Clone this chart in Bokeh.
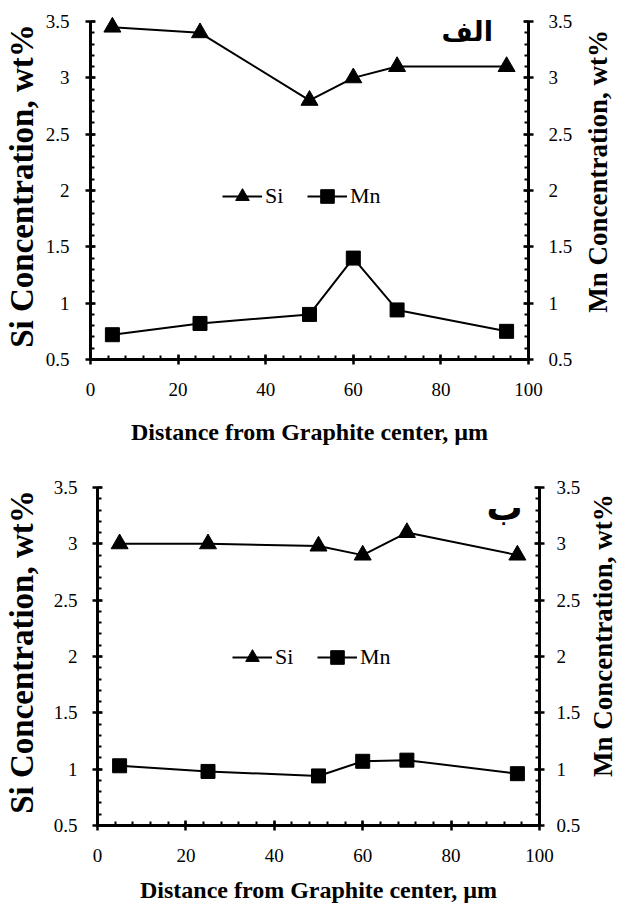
from bokeh.plotting import figure
from bokeh.models import (Range1d, LinearAxis, FixedTicker, Legend, LegendItem,
                          Label, CustomJSTickFormatter)
from bokeh.layouts import row
from bokeh.embed import file_html
from bokeh.resources import INLINE

# ---------------- data ----------------
distance_um = [5, 25, 50, 60, 70, 95]

si_a = [3.45, 3.40, 2.80, 3.00, 3.10, 3.10]
mn_a = [0.72, 0.82, 0.90, 1.40, 0.94, 0.75]

si_b = [3.00, 3.00, 2.98, 2.90, 3.10, 2.90]
mn_b = [1.03, 0.98, 0.94, 1.07, 1.08, 0.96]

x_tick_values = [0, 20, 40, 60, 80, 100]
x_minor_values = [v for v in range(0, 101, 4)]
y_tick_values = [0.5, 1, 1.5, 2, 2.5, 3, 3.5]
y_minor_values = [round(0.5 + 0.1 * i, 2) for i in range(31)]

x_title = "Distance from Graphite center, µm"
si_title = "Si Concentration, wt%"
mn_title = "Mn Concentration, wt%"
series_names = ["Si", "Mn"]
panel_tags = ["الف", "ب"]

SERIF = "'Times New Roman', 'Liberation Serif', serif"
FMT = "return tick.toString();"
MAIN_W = 583
SIDE_W = 36


def style_axis(ax, s1, s2):
    ax.axis_line_width = 3
    ax.axis_line_color = "black"
    ax.major_tick_line_width = 2.5
    ax.minor_tick_line_width = 2
    ax.major_tick_line_color = "black"
    ax.minor_tick_line_color = "black"
    ax.major_tick_in = 5
    ax.major_tick_out = 5
    ax.minor_tick_in = 4
    ax.minor_tick_out = 0
    ax.major_label_text_font = SERIF
    ax.major_label_text_font_size = "19px"
    ax.major_label_text_color = "black"
    ax.major_label_standoff = s1
    ax.axis_label_standoff = s2
    ax.axis_label_text_font = SERIF
    ax.axis_label_text_font_style = "bold"
    ax.axis_label_text_color = "black"


def make_panel(si, mn, tag, height, borders, legend_pos, tag_pos, tag_size,
               x_stand, y_stand, r_stand, side_pos):
    bl, br, bt, bb = borders
    p = figure(width=MAIN_W, height=height,
               x_range=Range1d(0, 100), y_range=Range1d(0.5, 3.58),
               output_backend="svg", toolbar_location=None,
               min_border_left=bl, min_border_right=br,
               min_border_top=bt, min_border_bottom=bb)
    p.extra_y_ranges = {"mn": Range1d(0.5, 3.58)}
    p.outline_line_color = None
    p.xgrid.visible = False
    p.ygrid.visible = False
    p.background_fill_color = "white"
    p.border_fill_color = "white"

    # x axis
    xa = p.xaxis[0]
    xa.ticker = FixedTicker(ticks=x_tick_values, minor_ticks=x_minor_values)
    xa.axis_label = x_title
    xa.axis_label_text_font_size = "24px"
    style_axis(xa, x_stand[0], x_stand[1])

    # left y axis
    ya = p.yaxis[0]
    ya.ticker = FixedTicker(ticks=y_tick_values, minor_ticks=y_minor_values)
    ya.formatter = CustomJSTickFormatter(code=FMT)
    ya.bounds = (0.5, 3.5)
    ya.axis_label = si_title
    ya.axis_label_text_font_size = "33px"
    style_axis(ya, y_stand[0], y_stand[1])

    # right y axis (its title is drawn in the side strip, reading upwards)
    ra = LinearAxis(y_range_name="mn",
                    ticker=FixedTicker(ticks=y_tick_values, minor_ticks=y_minor_values),
                    formatter=CustomJSTickFormatter(code=FMT))
    ra.bounds = (0.5, 3.5)
    style_axis(ra, r_stand, 0)
    p.add_layout(ra, "right")

    l_si = p.line(distance_um, si, line_color="black", line_width=2)
    m_si = p.scatter(distance_um, si, marker="triangle", size=17,
                     fill_color="black", line_color="black")
    l_mn = p.line(distance_um, mn, line_color="black", line_width=2,
                  y_range_name="mn")
    m_mn = p.scatter(distance_um, mn, marker="square", size=14,
                     fill_color="black", line_color="black", y_range_name="mn")

    legend = Legend(items=[LegendItem(label=series_names[0], renderers=[l_si, m_si]),
                           LegendItem(label=series_names[1], renderers=[l_mn, m_mn])],
                    orientation="horizontal", location=legend_pos,
                    glyph_width=40, glyph_height=34, label_standoff=3, spacing=22,
                    padding=0, margin=0, border_line_color=None,
                    background_fill_alpha=0,
                    label_text_font=SERIF, label_text_font_size="22px",
                    label_text_color="black")
    p.add_layout(legend, "center")

    p.add_layout(Label(x=tag_pos[0], y=tag_pos[1], text=tag,
                       text_align="center", text_baseline="middle",
                       text_font="DejaVu Sans", text_font_style="bold",
                       text_font_size=tag_size, text_color="black"))

    # side strip with the right-hand axis title
    s = figure(width=SIDE_W, height=height,
               x_range=Range1d(0, SIDE_W), y_range=Range1d(0, height),
               x_axis_type=None, y_axis_type=None,
               output_backend="svg", toolbar_location=None, min_border=0)
    s.outline_line_color = None
    s.xgrid.visible = False
    s.ygrid.visible = False
    s.border_fill_color = "white"
    s.background_fill_color = "white"
    s.add_layout(Label(x=side_pos[0], y=side_pos[1], text=mn_title,
                       angle=90, angle_units="deg",
                       text_align="center", text_baseline="middle",
                       text_font=SERIF, text_font_style="bold",
                       text_font_size="27px", text_color="black"))
    return row(p, s, spacing=0)


top = make_panel(si_a, mn_a, panel_tags[0], 450, (88, MAIN_W - 528, 12, 91),
                 (132, 146), (86, 3.41), "27px", (18, 20), (16, 3), 15,
                 (14, 244))
bottom = make_panel(si_b, mn_b, panel_tags[1], 455, (97, MAIN_W - 542, 28, 77),
                    (135, 151), (92.1, 3.32), "36px", (18, 12), (15, 11), 12,
                    (19, 249))

open("out.html", "w").write(file_html([top, bottom], INLINE))
